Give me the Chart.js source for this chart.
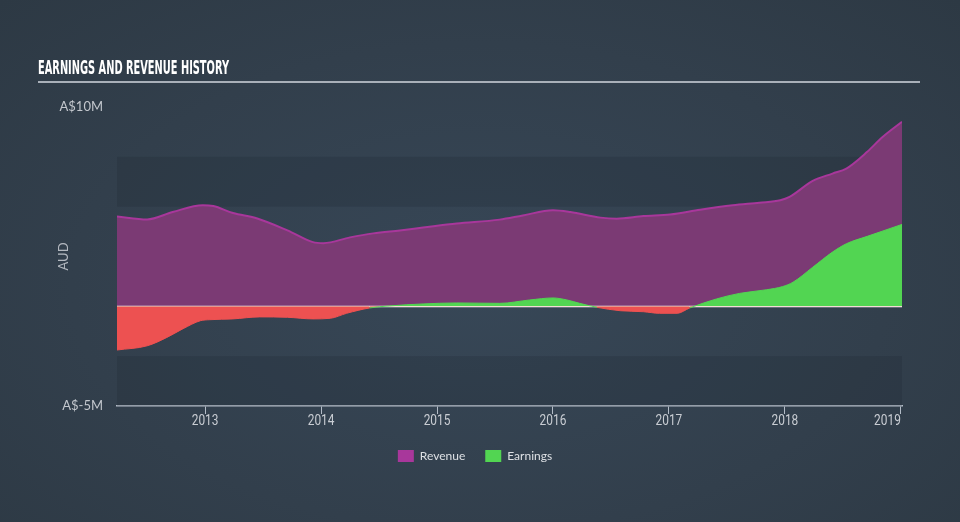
<!DOCTYPE html>
<html>
<head>
<meta charset="utf-8">
<script src="https://cdn.jsdelivr.net/npm/chart.js@4"></script>
<style>
  html, body { margin: 0; padding: 0; }
  body {
    width: 960px; height: 522px; overflow: hidden;
    background: radial-gradient(ellipse at 50% 55%, #374757 0%, #323f4c 60%, #2d3944 100%);
  }
  #wrap { position: relative; width: 960px; height: 522px; }
</style>
</head>
<body>
<div id="wrap"><canvas id="myChart"></canvas></div>
<script>
const years = [2013, 2014, 2015, 2016, 2017, 2018, 2019];
const yTicks = [-5, 10];

const revenueDates = [2012.24, 2012.50, 2012.72, 2012.98, 2013.07, 2013.24, 2013.45, 2013.71, 2013.93, 2014.02,
  2014.25, 2014.45, 2014.68, 2014.88, 2015.17, 2015.54, 2015.74, 2016.00, 2016.15, 2016.41,
  2016.55, 2016.78, 2017.01, 2017.27, 2017.55, 2017.78, 2017.96, 2018.04, 2018.24, 2018.41,
  2018.53, 2018.71, 2018.84, 2019.01];
const revenueValues = [4.51, 4.36, 4.73, 5.07, 5.03, 4.68, 4.41, 3.81, 3.22, 3.17,
  3.46, 3.66, 3.81, 3.95, 4.15, 4.35, 4.56, 4.82, 4.73, 4.45,
  4.40, 4.53, 4.61, 4.85, 5.07, 5.20, 5.32, 5.49, 6.29, 6.66,
  6.91, 7.75, 8.48, 9.26];

const earningsDates = [2012.24, 2012.50, 2012.67, 2012.81, 2012.96, 2013.04, 2013.24, 2013.47, 2013.71, 2013.93,
  2014.08, 2014.22, 2014.42, 2014.59, 2014.88, 2015.17, 2015.54, 2015.80, 2016.00, 2016.12,
  2016.23, 2016.38, 2016.58, 2016.78, 2016.92, 2017.07, 2017.18, 2017.41, 2017.61, 2017.84,
  2017.98, 2018.07, 2018.24, 2018.41, 2018.53, 2018.71, 2019.01];
const earningsValues = [-2.19, -1.98, -1.56, -1.12, -0.72, -0.67, -0.63, -0.53, -0.55, -0.63,
  -0.60, -0.35, -0.08, 0.02, 0.12, 0.17, 0.15, 0.32, 0.42, 0.32,
  0.15, -0.05, -0.22, -0.27, -0.35, -0.35, -0.08, 0.37, 0.65, 0.83,
  0.99, 1.21, 1.96, 2.72, 3.14, 3.51, 4.11];

const purpleFill = "#7b3a74";
const purpleLine = "#a8379b";
const green = "#52d552";
const red = "#ed5151";
const narrow = "'Liberation Sans Narrow', 'DejaVu Sans Condensed', 'DejaVu Sans', sans-serif";

const toPoints = (xs, ys) => xs.map((x, i) => ({ x: x, y: ys[i] }));

// bands, title, zero line, axis labels
const decor = {
  id: "decor",
  beforeDatasetsDraw(chart) {
    const { ctx, chartArea, scales } = chart;
    const y = scales.y;
    const bands = [[7.5, 5], [2.5, 0], [-2.5, -5]];
    ctx.save();
    ctx.fillStyle = "rgba(24, 34, 44, 0.2)";
    bands.forEach(([a, b]) => {
      const top = y.getPixelForValue(a);
      const bot = y.getPixelForValue(b);
      ctx.fillRect(chartArea.left, top, chartArea.right - chartArea.left, bot - top);
    });
    ctx.restore();
  },
  afterDatasetDraw(chart, args) {
    if (args.index !== 0) return;
    const { ctx, chartArea, scales } = chart;
    const zero = Math.round(scales.y.getPixelForValue(0)) + 0.5;
    ctx.save();
    ctx.strokeStyle = "#ffffff";
    ctx.lineWidth = 1.5;
    ctx.beginPath();
    ctx.moveTo(chartArea.left, zero);
    ctx.lineTo(chartArea.right, zero);
    ctx.stroke();
    ctx.restore();
  },
  afterDraw(chart) {
    const { ctx, chartArea, scales } = chart;
    ctx.save();
    // title
    ctx.font = "bold 19px " + narrow;
    ctx.fillStyle = "#ffffff";
    ctx.textBaseline = "alphabetic";
    const title = "EARNINGS AND REVENUE HISTORY";
    const w = ctx.measureText(title).width;
    ctx.save();
    ctx.translate(38, 74);
    ctx.scale(191 / w, 1);
    ctx.fillText(title, 0, 0);
    ctx.restore();
    ctx.fillStyle = "#a9b0b9";
    ctx.fillRect(38, 81, 882, 2);

    // x tick labels
    ctx.font = "14px Roboto";
    ctx.fillStyle = "#c9cdd3";
    ctx.textBaseline = "middle";
    years.forEach((yr, i) => {
      const px = scales.x.getPixelForValue(yr);
      const last = i === years.length - 1;
      ctx.save();
      ctx.translate(px, 421);
      ctx.scale(0.85, 1);
      ctx.textAlign = last ? "right" : "center";
      ctx.fillText(String(yr), 0, 0);
      ctx.restore();
    });

    // y axis title
    ctx.font = "13px Lato";
    ctx.fillStyle = "#b4b9c0";
    ctx.textAlign = "center";
    ctx.translate(64, (chartArea.top + chartArea.bottom) / 2);
    ctx.rotate(-Math.PI / 2);
    ctx.fillText("AUD", 0, 0);
    ctx.restore();
  }
};

const ctx = document.getElementById("myChart");

new Chart(ctx, {
  type: "line",
  data: {
    datasets: [
      {
        label: "Revenue",
        data: toPoints(revenueDates, revenueValues),
        borderColor: purpleLine,
        backgroundColor: purpleLine,
        borderWidth: 2,
        fill: { target: "origin", above: purpleFill, below: purpleFill },
        pointRadius: 0,
        cubicInterpolationMode: "monotone",
        order: 2,
      },
      {
        label: "Earnings",
        data: toPoints(earningsDates, earningsValues),
        borderColor: green,
        backgroundColor: green,
        borderWidth: 1,
        segment: {
          borderColor: (c) => (c.p0.parsed.y < 0 && c.p1.parsed.y < 0 ? red : green),
        },
        fill: { target: "origin", above: green, below: red },
        pointRadius: 0,
        cubicInterpolationMode: "monotone",
        order: 1,
      },
    ],
  },
  options: {
    responsive: true,
    maintainAspectRatio: false,
    animation: false,
    layout: {
      padding: { top: 107, right: 58, left: 48, bottom: 50 },
    },
    scales: {
      x: {
        type: "linear",
        min: 2012.24,
        max: 2019.01,
        afterBuildTicks: (scale) => {
          scale.ticks = years.map((v) => ({ value: v }));
        },
        afterFit: (scale) => {
          scale.height = 24;
        },
        ticks: { display: false },
        grid: {
          display: true,
          drawOnChartArea: false,
          drawTicks: true,
          tickLength: 8,
          color: "#b3bcc7",
          lineWidth: 1,
        },
        border: { display: true, color: "#b3bcc7", width: 1.5 },
      },
      y: {
        type: "linear",
        min: -5,
        max: 10,
        afterBuildTicks: (scale) => {
          scale.ticks = yTicks.map((v) => ({ value: v }));
        },
        afterFit: (scale) => {
          scale.width = 69;
        },
        ticks: {
          padding: 6,
          color: "#c3c7cd",
          font: { family: "Lato", size: 13 },
          callback: (v) => "A$" + v + "M",
        },
        grid: { display: false },
        border: { display: false },
      },
    },
    plugins: {
      legend: {
        position: "bottom",
        labels: {
          boxWidth: 16,
          boxHeight: 12,
          padding: 20,
          color: "#dde0e4",
          font: { family: "Lato", size: 12 },
          generateLabels: (chart) =>
            chart.data.datasets.map((ds, i) => ({
              text: ds.label,
              fillStyle: i === 0 ? "#a8379b" : green,
              strokeStyle: "transparent",
              lineWidth: 0,
              fontColor: "#dde0e4",
              datasetIndex: i,
              hidden: false,
            })),
        },
      },
      tooltip: { enabled: false },
    },
  },
  plugins: [decor],
});
</script>
</body>
</html>
